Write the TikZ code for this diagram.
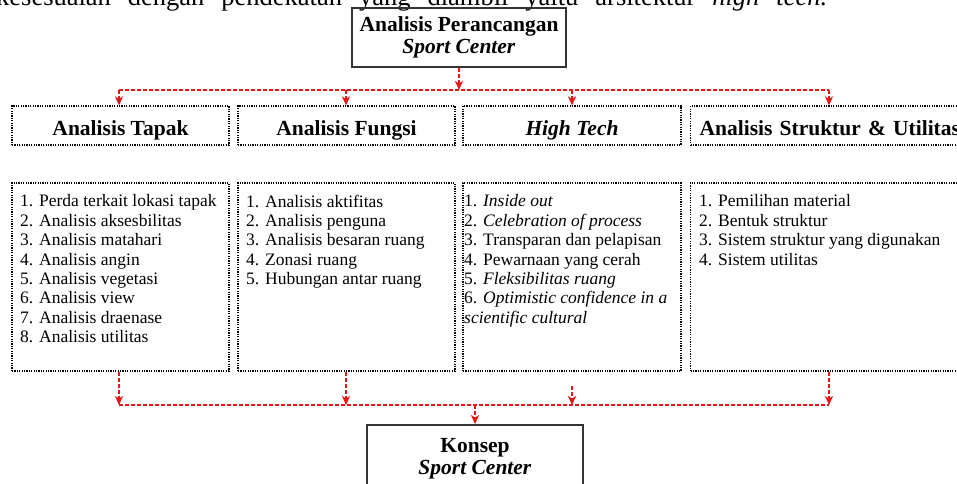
\documentclass[tikz,border=0pt]{standalone}
\usepackage{fontspec}
\setmainfont{Liberation Serif}
\usetikzlibrary{arrows.meta,calc}
\definecolor{lnred}{RGB}{235,20,20}
\begin{document}
\begin{tikzpicture}[x=1pt,y=-1pt,
  reddash/.style={draw=lnred, line width=1.6pt, dash pattern=on 4pt off 2pt},
  redarrow/.style={reddash, -{Stealth[length=9pt,width=8pt,inset=2.5pt]}},
  mainbox/.style={draw=black!80, line width=1.8pt, align=center, inner sep=0pt,
    font=\fontsize{21.5}{22.5}\selectfont\bfseries},
  headbox/.style={draw, line width=1.2pt, dash pattern=on 1.2pt off 1.2pt,
    minimum height=39pt, text height=19pt, text depth=0pt,
    font=\fontsize{21.5}{24}\selectfont\bfseries},
  listbox/.style={draw, line width=1.2pt, dash pattern=on 1.2pt off 1.2pt,
    minimum height=188pt},
  listtext/.style={anchor=north west, inner sep=0pt, align=left,
    font=\fontsize{17.5}{19.4}\selectfont}]
\useasboundingbox (0,0) rectangle (957,483);
\clip (0,0) rectangle (957,483);
\fill[white] (0,0) rectangle (957,483);

% cut-off text line at the top
\node[anchor=base west, inner sep=0pt, font=\fontsize{26.5}{30}\selectfont] (cap) at (-4,5)
  {\parbox[b]{831pt}{\parfillskip=0pt\relax kesesuaian dengan pendekatan yang diambil yaitu arsitektur \textit{high tech.}}};

% main boxes
\node[mainbox, minimum width=214pt, minimum height=59pt] (top) at (459,37.5)
  {Analisis Perancangan\\\textit{Sport Center}};
\node[mainbox, minimum width=216pt, minimum height=67pt] (k) at (475,458.5)
  {Konsep\\\textit{Sport Center}};

% header boxes
\node[headbox, minimum width=217pt] (h1) at (120.5,125.5) {Analisis Tapak};
\node[headbox, minimum width=217pt] (h2) at (346.5,125.5) {Analisis Fungsi};
\node[headbox, minimum width=218pt] (h3) at (572,125.5) {\textit{High Tech}};
\node[headbox, anchor=west, text width=272pt, inner xsep=9pt, align=left] (h4) at (690,125.5)
  {Analisis Struktur \& Utilitas};

% content boxes
\node[listbox, minimum width=217pt] (c1) at (120.5,277) {};
\node[listbox, minimum width=217pt] (c2) at (346.5,277) {};
\node[listbox, minimum width=218pt] (c3) at (572,277) {};
\node[listbox, minimum width=290pt, anchor=west] (c4) at (690,277) {};

\node[listtext] (t1) at (20,194.5) {1. Perda terkait lokasi tapak\\2. Analisis aksesbilitas\\3. Analisis matahari\\4. Analisis angin\\5. Analisis vegetasi\\6. Analisis view\\7. Analisis draenase\\8. Analisis utilitas};
\node[listtext] (t2) at (246,194.5) {1. Analisis aktifitas\\2. Analisis penguna\\3. Analisis besaran ruang\\4. Zonasi ruang\\5. Hubungan antar ruang};
\node[listtext] (t3) at (464,194.5) {1. \textit{Inside out}\\2. \textit{Celebration of process}\\3. Transparan dan pelapisan\\4. Pewarnaan yang cerah\\5. \textit{Fleksibilitas ruang}\\6. \textit{Optimistic confidence in a}\\\textit{scientific cultural}};
\node[listtext] (t4) at (699,194.5) {1. Pemilihan material\\2. Bentuk struktur\\3. Sistem struktur yang digunakan\\4. Sistem utilitas};

% top connectors
\coordinate (tj) at (459,90);
\coordinate (a1) at (119,90);
\coordinate (a2) at (346,90);
\coordinate (a3) at (572,90);
\coordinate (a4) at (829,90);
\draw[redarrow] (top.south) -- (tj);
\draw[reddash] (a1) -- (a4);
\draw[redarrow] (a1) -- (a1 |- h1.north);
\draw[redarrow] (a2) -- (a2 |- h2.north);
\draw[redarrow] (a3) -- (a3 |- h3.north);
\draw[redarrow] (a4) -- (a4 |- h4.north);

% bottom connectors
\coordinate (b1) at (119,405);
\coordinate (b2) at (346,405);
\coordinate (b3) at (572,405);
\coordinate (b4) at (829,405);
\coordinate (bj) at (475,405);
\draw[redarrow] (c1.south -| b1) -- (b1);
\draw[redarrow] (c2.south -| b2) -- (b2);
\draw[redarrow] ($(c3.south -| b3)+(0,14)$) -- (b3);
\draw[redarrow] (c4.south -| b4) -- (b4);
\draw[reddash] (b1) -- (b4);
\draw[redarrow] (bj) -- (k.north);
\end{tikzpicture}
\end{document}
